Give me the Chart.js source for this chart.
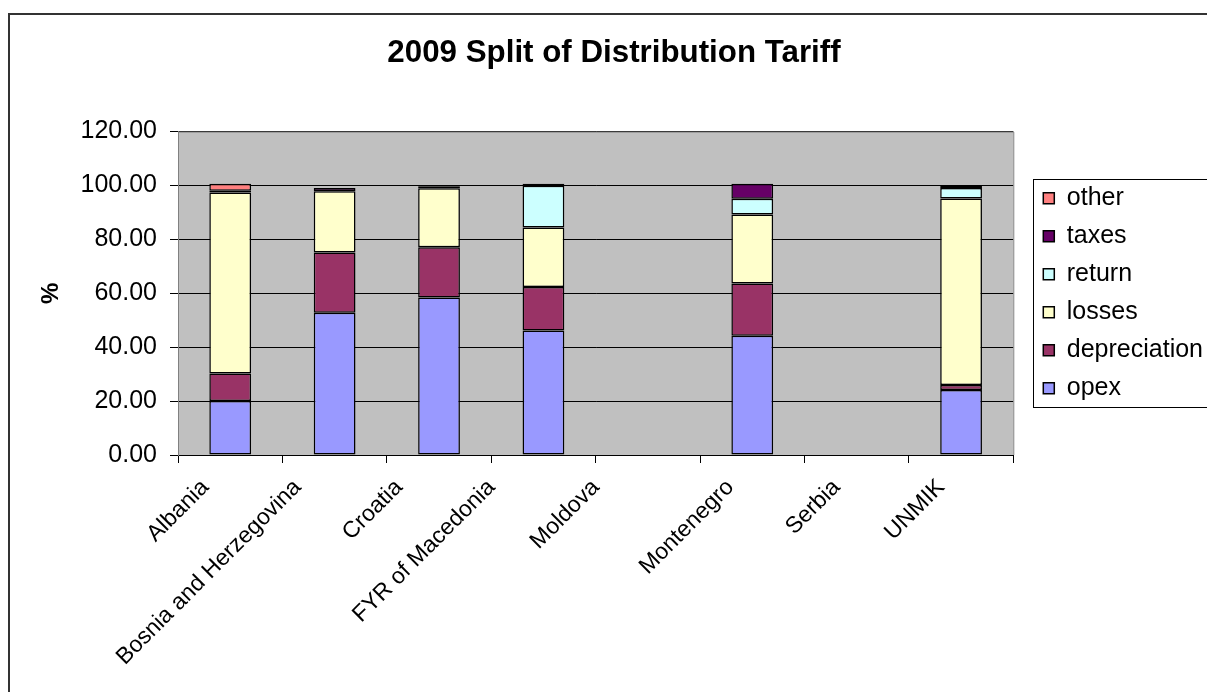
<!DOCTYPE html>
<html>
<head>
<meta charset="utf-8">
<title>2009 Split of Distribution Tariff</title>
<script src="https://cdn.jsdelivr.net/npm/chart.js@4/dist/chart.umd.min.js"></script>
<style>
  html, body { margin: 0; padding: 0; background: #fff; }
  #wrap { position: relative; width: 1207px; height: 692px; }
</style>
</head>
<body>
<div id="wrap"><canvas id="tariffChart"></canvas></div>
<script>
const countries = ['Albania', 'Bosnia and Herzegovina', 'Croatia', 'FYR of Macedonia',
                   'Moldova', 'Montenegro', 'Serbia', 'UNMIK'];

// share of the tariff, % (Moldova and Serbia have no data)
const opex         = [20.0, 52.8, 58.4, 46.2, null, 44.2, null, 24.1];
const depreciation = [10.2, 22.3, 18.7, 16.1, null, 19.4, null,  1.9];
const losses       = [67.2, 22.8, 21.9, 22.1, null, 25.6, null, 69.2];
const returns      = [null, null,  0.5, 15.5, null,  5.9, null,  3.9];
const taxes        = [ 0.6,  1.2,  0.5,  0.7, null,  5.5, null,  0.8];
const other        = [ 2.6, null, null, null, null, null, null, null];

const yTicks = [0, 20, 40, 60, 80, 100, 120];

// extra horizontal nudge of each rotated category label, px
const labelShift = [-5, -17, -20, -32, -32, -2, 0, 0];

const FONT = "'Liberation Sans', Arial, sans-serif";

function series(label, data, color) {
    return {
        label: label,
        data: data,
        backgroundColor: color,
        borderColor: '#000',
        borderWidth: 1.5,
        borderSkipped: false,
        barPercentage: 0.4,
        categoryPercentage: 1.0
    };
}

// grey plot area, outer frame and the legend border
const framePlugin = {
    id: 'frame',
    beforeDraw(chart) {
        const { ctx, chartArea: a } = chart;
        ctx.save();
        ctx.fillStyle = '#fff';
        ctx.fillRect(0, 0, chart.width, chart.height);
        ctx.fillStyle = '#c0c0c0';
        ctx.fillRect(a.left, a.top, a.right - a.left, a.bottom - a.top);
        ctx.strokeStyle = '#333';
        ctx.lineWidth = 2;
        ctx.strokeRect(9, 14, chart.width + 20, chart.height + 20);
        ctx.restore();
    },
    beforeDatasetsDraw(chart) {
        const { ctx, chartArea: a } = chart;
        ctx.save();
        ctx.strokeStyle = '#808080';
        ctx.lineWidth = 1;
        ctx.beginPath();
        ctx.moveTo(a.right + 0.5, a.bottom);
        ctx.lineTo(a.right + 0.5, a.top + 0.5);
        ctx.lineTo(a.left, a.top + 0.5);
        ctx.stroke();
        ctx.restore();
    },
    afterDraw(chart) {
        const lg = chart.legend;
        const boxes = lg.legendHitBoxes;
        if (!boxes || !boxes.length) return;
        const first = boxes[0];
        const last = boxes[boxes.length - 1];
        const top = Math.round(first.top - 7) + 0.5;
        const bottom = Math.round(last.top + last.height + 6) + 0.5;
        const left = Math.round(lg.left + 3) + 0.5;
        const ctx = chart.ctx;
        ctx.save();
        ctx.strokeStyle = '#000';
        ctx.lineWidth = 1;
        ctx.strokeRect(left, top, chart.width - left + 10, bottom - top);
        ctx.restore();
    }
};

// shift each x label on its own (labelOffset is one value for the whole axis)
const nudged = new WeakSet();
const labelNudgePlugin = {
    id: 'labelNudge',
    beforeDraw(chart) {
        const items = chart.scales.x.getLabelItems(chart.chartArea);
        if (nudged.has(items)) return;
        items.forEach((item, i) => {
            item.options.translation[0] += labelShift[i] || 0;
        });
        nudged.add(items);
    }
};

new Chart(document.getElementById('tariffChart'), {
    type: 'bar',
    data: {
        labels: countries,
        datasets: [
            series('opex', opex, '#9999ff'),
            series('depreciation', depreciation, '#993366'),
            series('losses', losses, '#ffffcc'),
            series('return', returns, '#ccffff'),
            series('taxes', taxes, '#660066'),
            series('other', other, '#ff8080')
        ]
    },
    options: {
        responsive: true,
        maintainAspectRatio: false,
        animation: false,
        layout: { padding: { left: 15, right: -6, top: 0, bottom: 0 } },
        scales: {
            x: {
                stacked: true,
                afterFit(s) { s.height = 237; },
                grid: {
                    offset: true,
                    drawOnChartArea: false,
                    drawTicks: true,
                    tickLength: 8,
                    color: '#000'
                },
                border: { color: '#000', width: 1 },
                ticks: {
                    autoSkip: false,
                    minRotation: 45,
                    maxRotation: 45,
                    padding: 11,
                    labelOffset: -20,
                    color: '#000',
                    font: { family: FONT, size: 23 }
                }
            },
            y: {
                stacked: true,
                min: 0,
                max: 120,
                afterFit(s) { s.width = 163; },
                afterBuildTicks(s) { s.ticks = yTicks.map(v => ({ value: v })); },
                grid: {
                    color: '#000',
                    lineWidth: 1,
                    tickLength: 8
                },
                border: { color: '#808080', width: 1 },
                ticks: {
                    padding: 13,
                    color: '#000',
                    font: { family: FONT, size: 25 },
                    callback: v => Number(v).toFixed(2)
                },
                title: {
                    display: true,
                    text: '%',
                    color: '#000',
                    font: { family: FONT, size: 24, weight: 'bold' },
                    padding: { top: 22, bottom: 0 }
                }
            },
            // empty spacer between the plot and the legend
            gap: {
                type: 'linear',
                position: 'right',
                display: true,
                afterFit(s) { s.width = 17; },
                grid: { display: false, drawTicks: false },
                border: { display: false },
                ticks: { display: false }
            }
        },
        plugins: {
            title: {
                display: true,
                text: '2009 Split of Distribution Tariff',
                color: '#000',
                font: { family: FONT, size: 31.3, weight: 'bold' },
                padding: { top: 35, bottom: 59 }
            },
            legend: {
                position: 'right',
                fullSize: false,
                align: 'center',
                reverse: true,
                labels: {
                    boxWidth: 11,
                    boxHeight: 11,
                    padding: 13,
                    color: '#000',
                    font: { family: FONT, size: 25 }
                }
            },
            tooltip: { enabled: false }
        }
    },
    plugins: [framePlugin, labelNudgePlugin]
});
</script>
</body>
</html>
